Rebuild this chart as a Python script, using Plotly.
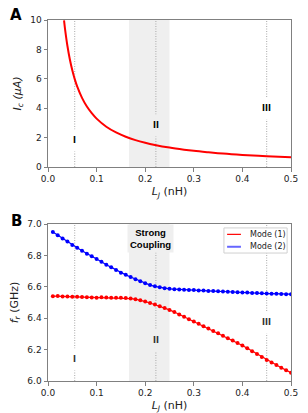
import plotly.graph_objects as go

# Panel A data: critical current vs Josephson inductance
lj_a = [0.033, 0.035, 0.04, 0.045, 0.05, 0.055, 0.06, 0.07, 0.08, 0.09, 0.1, 0.12, 0.14,
        0.16, 0.18, 0.2, 0.22, 0.25, 0.28, 0.3, 0.33, 0.36, 0.4, 0.45, 0.5]
ic = [9.97, 9.40, 8.23, 7.31, 6.58, 5.98, 5.48, 4.70, 4.11, 3.66, 3.29, 2.74, 2.35,
      2.06, 1.83, 1.65, 1.50, 1.32, 1.18, 1.10, 1.00, 0.91, 0.82, 0.73, 0.66]

# Panel B data: resonance frequencies of the two modes
lj_b = [round(0.01 * i, 2) for i in range(1, 51)]
mode1 = [6.540, 6.541, 6.539, 6.538, 6.537, 6.536, 6.535, 6.533, 6.532, 6.531,
         6.534, 6.532, 6.530, 6.531, 6.530, 6.528, 6.525, 6.521, 6.515, 6.506,
         6.497, 6.487, 6.476, 6.465, 6.453, 6.439, 6.424, 6.409, 6.394, 6.379,
         6.364, 6.349, 6.334, 6.319, 6.304, 6.289, 6.273, 6.258, 6.242, 6.226,
         6.208, 6.190, 6.172, 6.153, 6.134, 6.118, 6.102, 6.085, 6.069, 6.053]
mode2 = [6.949, 6.928, 6.908, 6.888, 6.867, 6.848, 6.830, 6.811, 6.794, 6.777,
         6.759, 6.741, 6.724, 6.707, 6.690, 6.676, 6.662, 6.648, 6.635, 6.623,
         6.611, 6.603, 6.597, 6.591, 6.587, 6.585, 6.583, 6.581, 6.580, 6.579,
         6.577, 6.576, 6.574, 6.573, 6.571, 6.570, 6.568, 6.567, 6.566, 6.564,
         6.563, 6.561, 6.560, 6.559, 6.557, 6.556, 6.555, 6.554, 6.553, 6.553]
mode_names = ["Mode (1)", "Mode (2)"]

# Marker lines and labels
regime_x = [0.055, 0.222, 0.45]
regime_labels = ["I", "II", "III"]
label_y_a = [1.8, 2.85, 4.0]
label_y_b = [6.14, 6.255, 6.372]
label_bg = ["white", "#efefef", "white"]
strong_band = [0.1667, 0.25]

FONT = "DejaVu Sans"
SPINE = "#808080"
W, H = 308, 413
ML, MR, MT, MB = 48, 17, 20, 32

fig = go.Figure()

fig.add_trace(go.Scatter(x=lj_a, y=ic, mode="lines", line=dict(color="#ff0000", width=2, shape="spline"),
                         xaxis="x", yaxis="y", showlegend=False))
fig.add_trace(go.Scatter(x=lj_b, y=mode1, mode="lines+markers", name=mode_names[0],
                         line=dict(color="#ff0000", width=1.2),
                         marker=dict(color="#ff0000", size=4), xaxis="x2", yaxis="y2", showlegend=False))
fig.add_trace(go.Scatter(x=lj_b, y=mode2, mode="lines+markers", name=mode_names[1],
                         line=dict(color="#0000ff", width=1.2),
                         marker=dict(color="#0000ff", size=4), xaxis="x2", yaxis="y2", showlegend=False))

shapes = []
for xr, yr in (("x", "y"), ("x2", "y2")):
    shapes.append(dict(type="rect", xref=xr, yref=f"{yr} domain", x0=strong_band[0], x1=strong_band[1],
                       y0=0, y1=1, fillcolor="#efefef", line=dict(width=0), layer="below"))
    for xv in regime_x:
        shapes.append(dict(type="line", xref=xr, yref=f"{yr} domain", x0=xv, x1=xv, y0=0, y1=1,
                           line=dict(color="#a8a8a8", width=1, dash="1px,1.5px"), layer="below"))

# hand-built compact legend (matplotlib style) inside panel B
shapes.append(dict(type="rect", xref="x2 domain", yref="y2 domain", x0=0.724, x1=0.984, y0=0.815, y1=0.975,
                   fillcolor="rgba(255,255,255,0.9)", line=dict(color="#d0d0d0", width=1), layer="above"))
legend_colors = ["#ff0000", "rgba(0,0,255,0.6)"]
legend_widths = [1.2, 2]
legend_y = [0.934, 0.855]
annotations = []
for name, col, lw, ly in zip(mode_names, legend_colors, legend_widths, legend_y):
    shapes.append(dict(type="line", xref="x2 domain", yref="y2 domain", x0=0.737, x1=0.794, y0=ly, y1=ly,
                       line=dict(color=col, width=lw), layer="above"))
    annotations.append(dict(x=0.822, y=ly, xref="x2 domain", yref="y2 domain", text=name, showarrow=False,
                            xanchor="left", yanchor="middle", font=dict(family=FONT, size=8, color="#222222")))

for xv, lab, ya, yb, bg in zip(regime_x, regime_labels, label_y_a, label_y_b, label_bg):
    annotations.append(dict(x=xv, y=ya, xref="x", yref="y", text=f"<b>{lab}</b>", showarrow=False,
                            font=dict(family=FONT, size=8, color="black"), bgcolor=bg, borderpad=6))
    annotations.append(dict(x=xv, y=yb, xref="x2", yref="y2", text=f"<b>{lab}</b>", showarrow=False,
                            font=dict(family=FONT, size=8, color="#333333"), bgcolor=bg, borderpad=6))
annotations.append(dict(x=0.21, y=6.905, xref="x2", yref="y2", text="<b>Strong<br>Coupling</b>",
                        showarrow=False, font=dict(family="Liberation Sans", size=9.5, color="black"),
                        bgcolor="#efefef", borderpad=2))
for px, py, lab in ((16, 15, "A"), (16, 221, "B")):
    annotations.append(dict(x=(px - ML) / (W - ML - MR), y=1 - (py - MT) / (H - MT - MB),
                            xref="paper", yref="paper", xanchor="center", yanchor="middle",
                            text=f"<b>{lab}</b>", showarrow=False,
                            font=dict(family=FONT, size=15, color="black")))

axis_common = dict(showline=True, linecolor=SPINE, linewidth=1, mirror=True, ticks="outside",
                   ticklen=3.5, tickcolor=SPINE, showgrid=False, zeroline=False, automargin=False,
                   tickfont=dict(family=FONT, size=9, color="#222222"))

ticks_x = [0, 0.1, 0.2, 0.3, 0.4, 0.5]
ticks_x_text = ["0.0", "0.1", "0.2", "0.3", "0.4", "0.5"]
TITLE_FONT = dict(family=FONT, size=11, color="#222222")

fig.update_layout(
    width=W, height=H, margin=dict(l=ML, r=MR, t=MT, b=MB),
    plot_bgcolor="white", paper_bgcolor="white", showlegend=False,
    font=dict(family=FONT, color="#222222"),
    xaxis=dict(domain=[0, 1], anchor="y", range=[0, 0.5], tickvals=ticks_x, ticktext=ticks_x_text,
               title=dict(text="<i>L<sub>J</sub></i> (nH)", font=TITLE_FONT, standoff=4),
               **axis_common),
    yaxis=dict(domain=[1 - 147 / 361, 1], anchor="x", range=[0, 10], tickvals=[0, 2, 4, 6, 8, 10],
               title=dict(text="<i>I<sub>c</sub> (μA)</i>", font=TITLE_FONT, standoff=6),
               **axis_common),
    xaxis2=dict(domain=[0, 1], anchor="y2", range=[0, 0.5], tickvals=ticks_x, ticktext=ticks_x_text,
                title=dict(text="<i>L<sub>J</sub></i> (nH)", font=TITLE_FONT, standoff=4),
                **axis_common),
    yaxis2=dict(domain=[0, 157 / 361], anchor="x2", range=[6.0, 7.0],
                tickvals=[6.0, 6.2, 6.4, 6.6, 6.8, 7.0], ticktext=["6.0", "6.2", "6.4", "6.6", "6.8", "7.0"],
                title=dict(text="<i>f<sub>r</sub></i> (GHz)", font=TITLE_FONT, standoff=6),
                **axis_common),
    shapes=shapes, annotations=annotations,
)

fig.write_html("out.html", config={"displayModeBar": False},
               post_script="document.body.style.margin='0';document.body.style.overflow='hidden';")
